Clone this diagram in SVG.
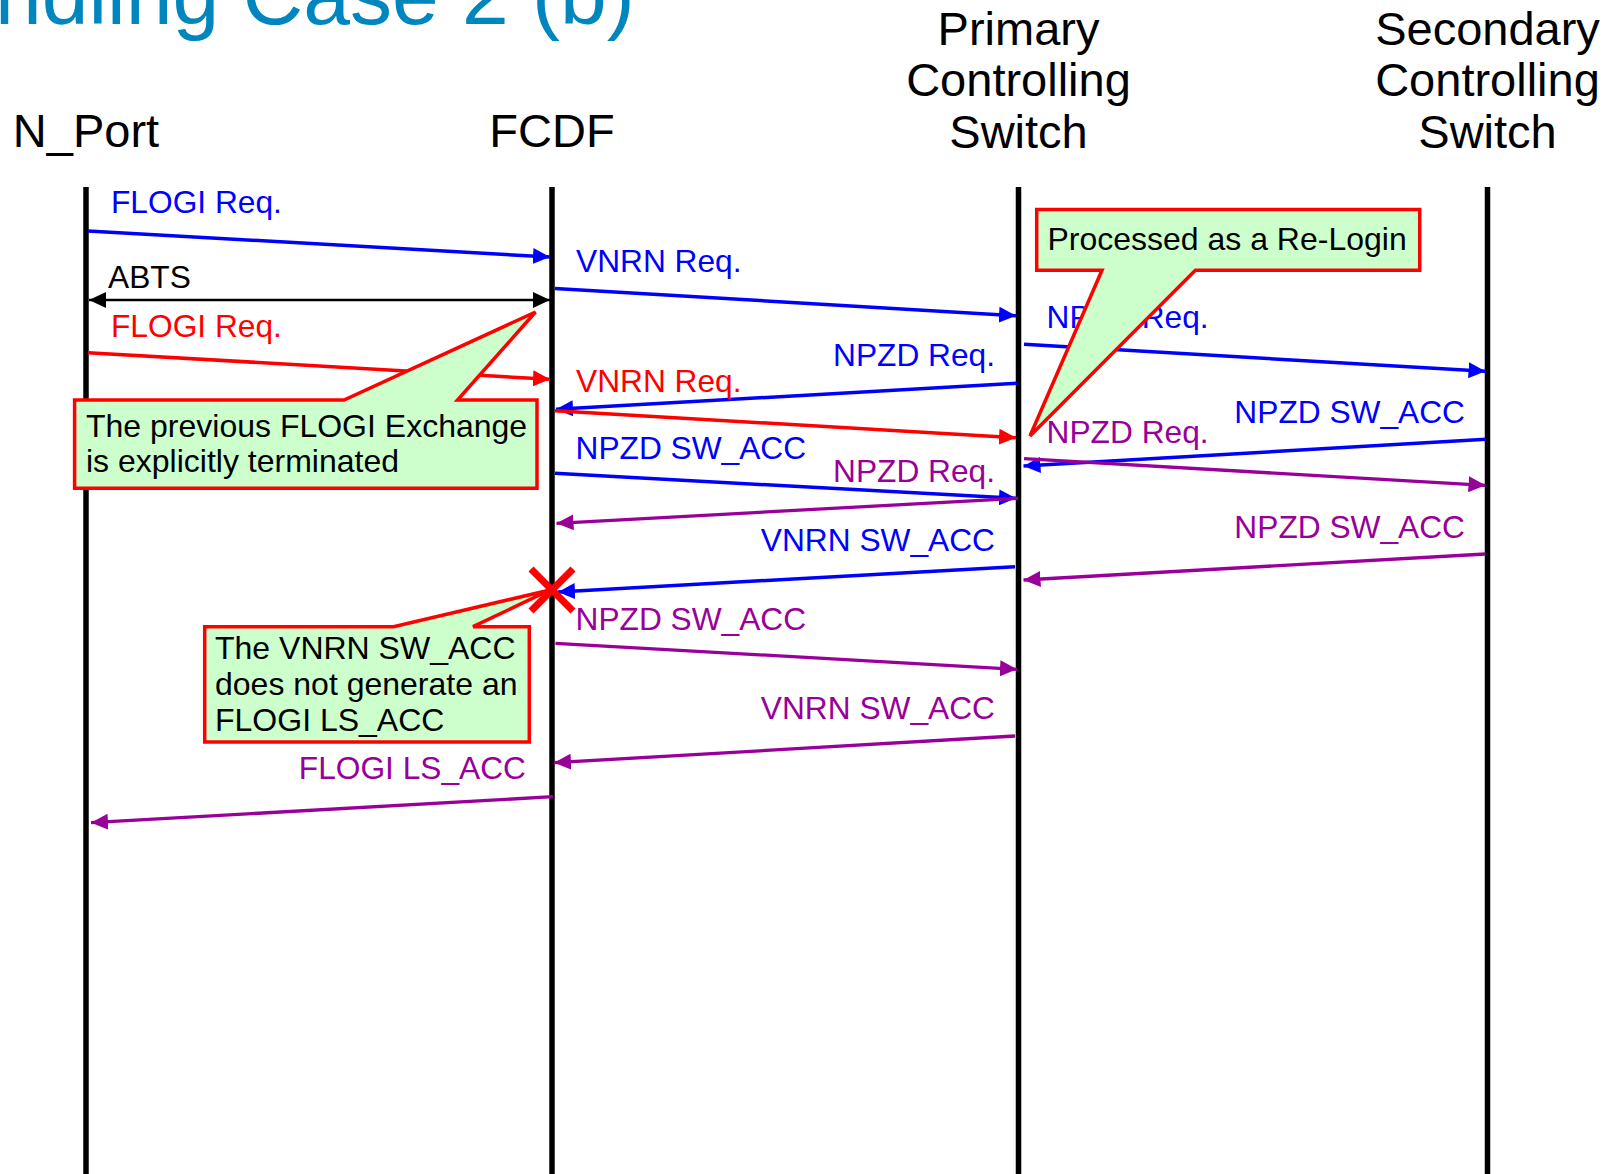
<svg xmlns="http://www.w3.org/2000/svg" width="1619" height="1174" viewBox="0 0 1619 1174">
<style>
  .title { font-family: "Liberation Sans", Arial, sans-serif; font-size: 84px; fill: #0086BE; }
  .head { font-family: "Liberation Sans", Arial, sans-serif; font-size: 47px; fill: #000; text-anchor: middle; }
  .lbl { font-family: "Liberation Sans", Arial, sans-serif; font-size: 31.7px; }
  .end { text-anchor: end; }
  .life { stroke: #000; stroke-width: 5.5; fill: none; }
  .blue { fill: #0000FF; }
  .red { fill: #FF0000; }
  .purple { fill: #990099; }
  .black { fill: #000; }
  .a-blue { stroke: #0000FF; stroke-width: 3.5; fill: none; marker-end: url(#ah-blue); }
  .a-red { stroke: #FF0000; stroke-width: 3.5; fill: none; marker-end: url(#ah-red); }
  .a-purple { stroke: #990099; stroke-width: 3.3; fill: none; marker-end: url(#ah-purple); }
  .a-black { stroke: #000; stroke-width: 2.5; fill: none; marker-end: url(#ah-black); marker-start: url(#ah-black); }
  .callout { fill: #CCFFCC; stroke: #FF0000; stroke-width: 3.5; stroke-linejoin: miter; }
  .ctext { font-family: "Liberation Sans", Arial, sans-serif; font-size: 32px; fill: #000; }
  .cross { stroke: #FF0000; stroke-width: 7; fill: none; }
</style>
<defs>
  <marker id="ah-blue" markerUnits="userSpaceOnUse" markerWidth="17" markerHeight="16" refX="17" refY="8" orient="auto-start-reverse"><path d="M0,0 L17,8 L0,16 Z" fill="#0000FF"/></marker>
  <marker id="ah-red" markerUnits="userSpaceOnUse" markerWidth="17" markerHeight="16" refX="17" refY="8" orient="auto-start-reverse"><path d="M0,0 L17,8 L0,16 Z" fill="#FF0000"/></marker>
  <marker id="ah-purple" markerUnits="userSpaceOnUse" markerWidth="17" markerHeight="16" refX="17" refY="8" orient="auto-start-reverse"><path d="M0,0 L17,8 L0,16 Z" fill="#990099"/></marker>
  <marker id="ah-black" markerUnits="userSpaceOnUse" markerWidth="17" markerHeight="16" refX="17" refY="8" orient="auto-start-reverse"><path d="M0,0 L17,8 L0,16 Z" fill="#000"/></marker>
</defs>
<rect width="1619" height="1174" fill="#FFFFFF"/>
<text class="title" x="-5" y="24">ndling Case 2 (b)</text>

<g id="nport">
  <text class="head" x="86" y="146.5">N_Port</text>
  <line class="life" x1="86" y1="187" x2="86" y2="1174"/>
</g>
<g id="fcdf">
  <text class="head" x="552" y="146.5">FCDF</text>
  <line class="life" x1="552" y1="187" x2="552" y2="1174"/>
</g>
<g id="primary">
  <text class="head" x="1018.5" y="44.5">Primary</text>
  <text class="head" x="1018.5" y="96">Controlling</text>
  <text class="head" x="1018.5" y="147.5">Switch</text>
  <line class="life" x1="1018.5" y1="187" x2="1018.5" y2="1174"/>
</g>
<g id="secondary">
  <text class="head" x="1487.5" y="44.5">Secondary</text>
  <text class="head" x="1487.5" y="96">Controlling</text>
  <text class="head" x="1487.5" y="147.5">Switch</text>
  <line class="life" x1="1487.5" y1="187" x2="1487.5" y2="1174"/>
</g>

<g id="connectors">
  <line class="a-blue" x1="88" y1="231" x2="550" y2="257"/>
  <text class="lbl blue" x="111" y="212.5">FLOGI Req.</text>

  <line class="a-black" x1="89" y1="300" x2="550" y2="300"/>
  <text class="lbl black" x="108" y="288">ABTS</text>

  <line class="a-red" x1="88" y1="352.7" x2="550" y2="379.3"/>
  <text class="lbl red" x="111" y="336.7">FLOGI Req.</text>

  <line class="a-blue" x1="555" y1="288.5" x2="1016" y2="315.7"/>
  <text class="lbl blue" x="576" y="271.7">VNRN Req.</text>

  <line class="a-blue" x1="1024" y1="344.3" x2="1485.5" y2="371.3"/>
  <text class="lbl blue" x="1046.6" y="328.3">NPZD Req.</text>

  <line class="a-blue" x1="1017" y1="383.3" x2="556" y2="409.3"/>
  <text class="lbl blue end" x="995" y="366">NPZD Req.</text>

  <line class="a-red" x1="555" y1="410.7" x2="1016" y2="437.7"/>
  <text class="lbl red" x="576" y="391.7">VNRN Req.</text>

  <line class="a-blue" x1="1486" y1="439.3" x2="1023.5" y2="466"/>
  <text class="lbl blue end" x="1465" y="423.3">NPZD SW_ACC</text>

  <line class="a-purple" x1="1024" y1="458.7" x2="1485.5" y2="485.3"/>
  <text class="lbl purple" x="1046.6" y="442.7">NPZD Req.</text>

  <line class="a-blue" x1="555" y1="473.3" x2="1016" y2="498.3"/>
  <text class="lbl blue" x="575.5" y="459.3">NPZD SW_ACC</text>

  <line class="a-purple" x1="1018" y1="498.3" x2="556.5" y2="523.3"/>
  <text class="lbl purple end" x="995" y="481.7">NPZD Req.</text>

  <line class="a-purple" x1="1485.5" y1="554" x2="1023.5" y2="580"/>
  <text class="lbl purple end" x="1465" y="538.3">NPZD SW_ACC</text>

  <line class="a-blue" x1="1015" y1="566.7" x2="558" y2="592"/>
  <text class="lbl blue end" x="995" y="550.7">VNRN SW_ACC</text>

  <line class="a-purple" x1="555.5" y1="643.3" x2="1017" y2="669.3"/>
  <text class="lbl purple" x="575.5" y="630">NPZD SW_ACC</text>

  <line class="a-purple" x1="1015" y1="736" x2="554" y2="762.7"/>
  <text class="lbl purple end" x="995" y="719.3">VNRN SW_ACC</text>

  <line class="a-purple" x1="553" y1="796.7" x2="91" y2="822.7"/>
  <text class="lbl purple end" x="526" y="779">FLOGI LS_ACC</text>
</g>

<g id="note-abts">
  <path class="callout" d="M74.6,400 L344,400 L535.5,312 L457.5,400 L537,400 L537,488.3 L74.6,488.3 Z"/>
  <text class="ctext" x="86" y="436.7">The previous FLOGI Exchange</text>
  <text class="ctext" x="86" y="471.7">is explicitly terminated</text>
</g>

<g id="note-relogin">
  <path class="callout" d="M1036.7,209.5 L1419.7,209.5 L1419.7,270.3 L1195.4,270.3 L1030,436 L1102,270.3 L1036.7,270.3 Z"/>
  <text class="ctext" x="1047.4" y="250">Processed as a Re-Login</text>
</g>

<g id="note-vnrn">
  <path class="callout" d="M204.7,626.7 L393.5,626.7 L550,590 L473,626.7 L529.3,626.7 L529.3,742 L204.7,742 Z"/>
  <text class="ctext" x="215" y="659">The VNRN SW_ACC</text>
  <text class="ctext" x="215" y="695">does not generate an</text>
  <text class="ctext" x="215" y="731">FLOGI LS_ACC</text>
</g>

<g id="drop-mark">
  <line class="cross" x1="531" y1="569" x2="573" y2="611"/>
  <line class="cross" x1="573" y1="569" x2="531" y2="611"/>
</g>
</svg>
